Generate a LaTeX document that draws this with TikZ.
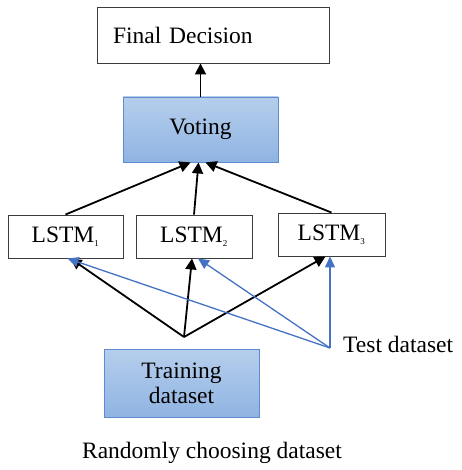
\documentclass[tikz,border=0pt]{standalone}
\usepackage{fontspec}
\setmainfont{Liberation Serif}
\usetikzlibrary{arrows.meta}
\definecolor{boxedge}{RGB}{60,60,60}
\definecolor{blueedge}{RGB}{95,140,208}
\definecolor{bluetop}{RGB}{182,206,236}
\definecolor{bluebot}{RGB}{143,180,226}
\definecolor{testline}{RGB}{70,114,196}
\tikzset{
  x=1pt, y=-1pt,
  every node/.style={font=\fontsize{23.5}{25}\selectfont, inner sep=0pt},
  plainbox/.style={draw=boxedge, line width=0.9pt, fill=white},
  bluebox/.style={draw=blueedge, line width=0.9pt, top color=bluetop, bottom color=bluebot},
  flow/.style={draw=black, line width=1.8pt, -{Triangle[length=11pt,width=11pt]}},
  testflow/.style={draw=testline, line width=1.3pt, -{Triangle[length=11pt,width=10pt]}},
}
\newcommand{\lsub}[1]{\textsubscript{\fontsize{9}{9}\selectfont #1}}
\begin{document}
\begin{tikzpicture}
\useasboundingbox (0,0) rectangle (461,470);

% boxes
\node[plainbox, minimum height=56pt, text width=200pt, inner xsep=16pt, align=left] (final) at (213,35) {Final Decision};
\node[bluebox, minimum width=155pt, minimum height=65pt] (vote) at (200.5,129.5) {Voting};
\node[plainbox, minimum width=115pt, minimum height=43pt] (l1) at (65.5,236.5) {LSTM\lsub{1}};
\node[plainbox, minimum width=116pt, minimum height=43pt] (l2) at (194,236.5) {LSTM\lsub{2}};
\node[plainbox, minimum width=107pt, minimum height=43pt] (l3) at (331.5,234.5) {LSTM\lsub{3}};
\node[bluebox, minimum width=155pt, minimum height=68pt, align=center, font=\fontsize{23.5}{25}\selectfont] (train) at (181.5,383) {Training\\dataset};

% labels
\node[anchor=west] (test) at (343,344) {Test dataset};
\node (rand) at (212,453) {Randomly choosing dataset};

% split points
\coordinate (fork) at (184,337);
\coordinate (tfork) at (330,348);

% voting to decision
\draw[flow] (vote.north) -- (final.south -| vote.north);

% LSTMs to voting
\draw[flow] (l1.north) -- ([xshift=-10pt]vote.south);
\draw[flow] (l2.north) -- ([xshift=-2pt]vote.south);
\draw[flow] (l3.north) -- ([xshift=5pt]vote.south);

% training data into each LSTM
\draw[flow] (fork) -- ([xshift=5pt]l1.south);
\draw[flow] (fork) -- ([xshift=-2pt]l2.south);
\draw[flow] (fork) -- ([xshift=-6pt]l3.south);

% test data into each LSTM
\draw[testflow] (tfork) -- ([xshift=2pt]l1.south);
\draw[testflow] (tfork) -- ([xshift=4pt]l2.south);
\draw[testflow] (tfork) -- (tfork |- l3.south);
\end{tikzpicture}
\end{document}
